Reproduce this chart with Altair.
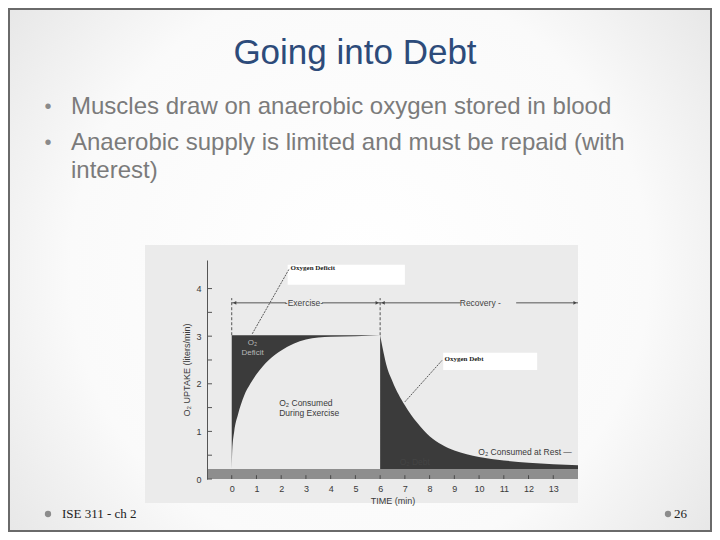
import altair as alt
import pandas as pd

# ---------------- data ----------------
ex_time = [0, 0.02, 0.1, 0.25, 0.5, 0.75, 1, 1.5, 2, 2.5, 3, 3.5, 4, 5, 6]
ex_uptake = [0.21, 0.6, 1.0, 1.35, 1.75, 2.0, 2.2, 2.5, 2.7, 2.84, 2.93, 2.97, 2.99, 3.0, 3.02]
rec_time = [6, 6.1, 6.25, 6.5, 7, 7.5, 8, 8.5, 9, 9.5, 10, 11, 12, 13, 14]
rec_uptake = [3.02, 2.75, 2.4, 2.05, 1.55, 1.18, 0.9, 0.72, 0.6, 0.52, 0.46, 0.39, 0.34, 0.31, 0.29]
steady_uptake = 3.02
rest_uptake = 0.21
x_tick_values = list(range(0, 14))
y_label_values = [0, 1, 2, 3, 4]
y_tick_values = [0, 0.5, 1, 1.5, 2, 2.5, 3, 3.5, 4]

slide_title = "Going into Debt"
bullet_lines = [
    "Muscles draw on anaerobic oxygen stored in blood",
    "Anaerobic supply is limited and must be repaid (with",
    "interest)",
]
footer_left = "ISE 311 - ch 2"
footer_right = "26"

W, H = 371, 219
PAD = {"left": 199, "top": 252, "right": 134, "bottom": 53}

XS = alt.Scale(domain=[-1, 14], nice=False, zero=False)
YS = alt.Scale(domain=[0, 4.6], nice=False, zero=False)
XAX = alt.Axis(values=x_tick_values, domain=False, ticks=False, grid=False,
               labelFontSize=9, labelColor="#3a3a3a", labelPadding=5,
               labelFont="Liberation Sans", title="TIME (min)", titleFontSize=9,
               titleFontWeight="normal", titleColor="#3a3a3a", titleFont="Liberation Sans",
               titlePadding=3, zindex=2)
YAX = alt.Axis(values=y_label_values, domain=True, domainColor="#555555", ticks=False,
               grid=False, labelFontSize=9, labelColor="#3a3a3a", labelPadding=6,
               labelFont="Liberation Sans", title="O₂ UPTAKE (liters/min)", titleFontSize=9,
               titleFontWeight="normal", titleColor="#3a3a3a", titleFont="Liberation Sans",
               titlePadding=4, zindex=2)


def X(f="t"):
    return alt.X(f"{f}:Q", scale=XS, axis=XAX)


def Y(f="v"):
    return alt.Y(f"{f}:Q", scale=YS, axis=YAX)


one = pd.DataFrame({"k": [0]})

# ---------------- slide ----------------
slide_bg = alt.Chart(one).mark_rect(
    fill={"gradient": "radial",
          "stops": [{"offset": 0, "color": "#ffffff"}, {"offset": 0.55, "color": "#fafafa"},
                    {"offset": 1, "color": "#dcdcdc"}],
          "x1": 0.5, "y1": 0.5, "r1": 0, "x2": 0.5, "y2": 0.5, "r2": 0.75},
    stroke="#6a6a6a", strokeWidth=2,
).encode(x=alt.value(-198), x2=alt.value(504), y=alt.value(-251), y2=alt.value(271))

title_mark = alt.Chart(one).mark_text(
    text=slide_title, font="Liberation Sans", fontSize=35, color="#2d4b7a",
    align="center", baseline="middle",
).encode(x=alt.value(148), y=alt.value(-207))

slide_layers = [slide_bg, title_mark]
for py in (-153, -117):
    slide_layers.append(alt.Chart(one).mark_text(
        text="•", font="Liberation Sans", fontSize=20, color="#8a8a8a",
        align="center", baseline="middle").encode(x=alt.value(-159), y=alt.value(py)))
for line, py in zip(bullet_lines, (-153, -117, -89)):
    slide_layers.append(alt.Chart(one).mark_text(
        text=line, font="Liberation Sans", fontSize=24, color="#7b7b7b",
        align="left", baseline="middle").encode(x=alt.value(-136), y=alt.value(py)))
for px in (-159, 461):
    slide_layers.append(alt.Chart(one).mark_point(
        shape="circle", filled=True, size=40, color="#8c8c8c", opacity=1).encode(
        x=alt.value(px), y=alt.value(254)))
slide_layers.append(alt.Chart(one).mark_text(
    text=footer_left, font="Liberation Serif", fontSize=13, color="#222222",
    align="left", baseline="middle").encode(x=alt.value(-145), y=alt.value(254)))
slide_layers.append(alt.Chart(one).mark_text(
    text=footer_right, font="Liberation Serif", fontSize=13, color="#222222",
    align="left", baseline="middle").encode(x=alt.value(467), y=alt.value(254)))

# picture background
pic_bg = alt.Chart(one).mark_rect(color="#ebebeb").encode(
    x=alt.value(-62), x2=alt.value(371), y=alt.value(-15), y2=alt.value(243))

# ---------------- chart ----------------
band_df = pd.DataFrame({"t": [-1], "t2": [14], "v": [0], "v2": [rest_uptake]})
band = alt.Chart(band_df).mark_rect(color="#8e8e8e").encode(
    x=X(), x2="t2:Q", y=Y(), y2="v2:Q")

ex_df = pd.DataFrame({"t": ex_time, "v": ex_uptake, "v2": [steady_uptake] * len(ex_time)})
deficit = alt.Chart(ex_df).mark_area(color="#3b3b3b", opacity=1, interpolate="monotone").encode(
    x=X(), y=Y(), y2="v2:Q")

rec_df = pd.DataFrame({"t": rec_time, "v": rec_uptake, "v2": [rest_uptake] * len(rec_time)})
debt = alt.Chart(rec_df).mark_area(color="#3b3b3b", opacity=1, interpolate="monotone").encode(
    x=X(), y=Y(), y2="v2:Q")

xt_df = pd.DataFrame({"t": x_tick_values, "v": [0] * 14, "v2": [0.08] * 14})
xticks = alt.Chart(xt_df).mark_rule(color="#4a4a4a", strokeWidth=1).encode(
    x=X(), y=Y(), y2="v2:Q")

yt_df = pd.DataFrame({"v": y_tick_values})
yticks = alt.Chart(yt_df).mark_rule(color="#555555", strokeWidth=1).encode(
    y=Y(), x=alt.value(0), x2=alt.value(5))

# annotation boxes
box_df = pd.DataFrame({"t": [2.26, 8.55], "t2": [7.0, 12.35], "v": [4.5, 2.65], "v2": [4.08, 2.29]})
boxes = alt.Chart(box_df).mark_rect(color="#ffffff").encode(
    x=X(), x2="t2:Q", y=Y(), y2="v2:Q")

# leader lines
lead_df = pd.DataFrame({"t": [0.83, 7.0], "t2": [2.33, 8.5], "v": [3.05, 1.62], "v2": [4.42, 2.49]})
leaders = alt.Chart(lead_df).mark_rule(color="#333333", strokeWidth=0.8, strokeDash=[2, 1]).encode(
    x=X(), x2="t2:Q", y=Y(), y2="v2:Q")

# exercise / recovery bracket
br_df = pd.DataFrame({"t": [0, 3.65, 6, 11.5], "t2": [2.2, 6, 9.25, 14], "v": [3.7] * 4})
bracket = alt.Chart(br_df).mark_rule(color="#555555", strokeWidth=1).encode(
    x=X(), x2="t2:Q", y=Y())

vd_df = pd.DataFrame({"t": [0, 6], "v": [steady_uptake, steady_uptake], "v2": [3.8, 3.8]})
vdash = alt.Chart(vd_df).mark_rule(color="#555555", strokeWidth=1, strokeDash=[3, 2]).encode(
    x=X(), y=Y(), y2="v2:Q")

arr_l = alt.Chart(pd.DataFrame({"t": [0.12, 6.12], "v": [3.7, 3.7]})).mark_point(
    shape="triangle-left", filled=True, size=14, color="#444444", opacity=1).encode(x=X(), y=Y())
arr_r = alt.Chart(pd.DataFrame({"t": [5.88, 13.88], "v": [3.7, 3.7]})).mark_point(
    shape="triangle-right", filled=True, size=14, color="#444444", opacity=1).encode(x=X(), y=Y())

# texts
txt_df = pd.DataFrame({
    "t": [2.92, 10.05, 1.92, 1.92, 9.97, 7.4],
    "v": [3.7, 3.7, 1.59, 1.38, 0.57, 0.36],
    "label": ["-Exercise-", "Recovery -", "O₂ Consumed", "During Exercise",
              "O₂ Consumed at Rest —", "O₂ Debt"],
    "al": ["center", "center", "left", "left", "left", "center"],
})
texts_c = alt.Chart(txt_df[txt_df["al"] == "center"]).mark_text(
    font="Liberation Sans", fontSize=8.5, color="#444444", align="center", baseline="middle").encode(
    x=X(), y=Y(), text="label:N")
texts_l = alt.Chart(txt_df[txt_df["al"] == "left"]).mark_text(
    font="Liberation Sans", fontSize=8.5, color="#3a3a3a", align="left", baseline="middle").encode(
    x=X(), y=Y(), text="label:N")

inner_df = pd.DataFrame({"t": [0.84, 0.84], "v": [2.85, 2.64], "label": ["O₂", "Deficit"]})
inner = alt.Chart(inner_df).mark_text(
    font="Liberation Sans", fontSize=8, color="#b8b8b8", align="center", baseline="middle").encode(
    x=X(), y=Y(), text="label:N")

ann_df = pd.DataFrame({"t": [2.38, 8.6], "v": [4.43, 2.53], "label": ["Oxygen Deficit", "Oxygen Debt"]})
ann = alt.Chart(ann_df).mark_text(
    font="Liberation Serif", fontSize=7, fontWeight="bold", color="#222222",
    align="left", baseline="middle").encode(x=X(), y=Y(), text="label:N")

chart = alt.layer(
    *slide_layers, pic_bg, band, deficit, debt, xticks, yticks, boxes, leaders,
    bracket, vdash, arr_l, arr_r, texts_c, texts_l, inner, ann,
).properties(
    width=W, height=H, padding=PAD,
    autosize=alt.AutoSizeParams(type="none"),
    background="#ffffff",
).configure_view(strokeWidth=0)

chart.save("out.html", embed_options={"renderer": "svg", "actions": False})
